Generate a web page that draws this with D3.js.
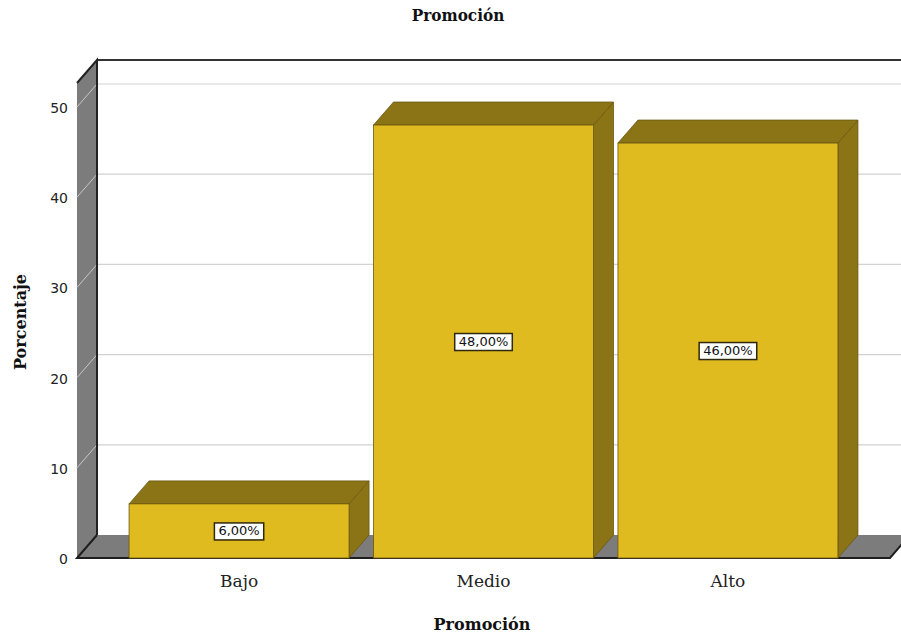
<!DOCTYPE html>
<html>
<head>
<meta charset="utf-8">
<script src="https://cdn.jsdelivr.net/npm/d3@7"></script>
<style>
  html, body { margin: 0; padding: 0; background: #ffffff; }
  svg { display: block; }
</style>
</head>
<body>
<svg id="chart" width="901" height="634"></svg>
<script>
// Data
const categories = ["Bajo", "Medio", "Alto"];
const percentages = [6, 48, 46];
const valueLabels = ["6,00%", "48,00%", "46,00%"];
const yTicks = [0, 10, 20, 30, 40, 50];

(function draw() {
  const W = 901;
  const svg = d3.select("#chart");

  // Front plane of the 3D box and depth offset
  const plotLeft = 77, plotRight = 890, plotBottom = 558, plotTop = 83;
  const dx = 20, dy = 23;
  const yMax = 52.66;

  const x = d3.scaleBand().domain(categories).range([plotLeft, plotRight])
    .paddingInner(0.1).paddingOuter(0.213);
  const y = d3.scaleLinear().domain([0, yMax]).range([plotBottom, plotTop]);

  const line = d3.line();
  const poly = pts => line(pts) + "Z";

  // Back wall
  svg.append("rect")
    .attr("x", plotLeft + dx).attr("y", plotTop - dy)
    .attr("width", W).attr("height", plotBottom - plotTop)
    .attr("fill", "#ffffff");

  // Gridlines on back wall
  svg.append("g").selectAll("line").data(yTicks.filter(d => d > 0)).join("line")
    .attr("x1", plotLeft + dx).attr("x2", W + 20)
    .attr("y1", d => y(d) - dy).attr("y2", d => y(d) - dy)
    .attr("stroke", "#d2d2d2").attr("stroke-width", 1.2);

  // Top edge of back wall
  svg.append("line")
    .attr("x1", plotLeft + dx).attr("x2", W + 20)
    .attr("y1", plotTop - dy).attr("y2", plotTop - dy)
    .attr("stroke", "#333333").attr("stroke-width", 2);

  // Left wall
  svg.append("path")
    .attr("d", poly([[plotLeft, plotTop], [plotLeft + dx, plotTop - dy], [plotLeft + dx, plotBottom - dy], [plotLeft, plotBottom]]))
    .attr("fill", "#7c7c7c");
  svg.append("g").selectAll("line").data(yTicks.filter(d => d > 0)).join("line")
    .attr("x1", plotLeft).attr("y1", d => y(d))
    .attr("x2", plotLeft + dx).attr("y2", d => y(d) - dy)
    .attr("stroke", "#c8c8c8").attr("stroke-width", 1);
  svg.append("path")
    .attr("d", line([[plotLeft, plotTop], [plotLeft + dx, plotTop - dy], [plotLeft + dx, plotBottom - dy]]))
    .attr("fill", "none").attr("stroke", "#222222").attr("stroke-width", 2);

  // Floor
  svg.append("path")
    .attr("d", poly([[plotLeft, plotBottom], [plotRight, plotBottom], [plotRight + dx, plotBottom - dy], [plotLeft + dx, plotBottom - dy]]))
    .attr("fill", "#7c7c7c");
  svg.append("path")
    .attr("d", line([[plotLeft + dx, plotBottom - dy], [plotLeft, plotBottom], [plotRight, plotBottom], [plotRight + dx, plotBottom - dy]]))
    .attr("fill", "none").attr("stroke", "#1e1e1e").attr("stroke-width", 2);

  // Bars
  const front = "#e0bb1f", shade = "#8b7416", edge = "#6a5710";
  const bars = svg.append("g").selectAll("g").data(categories).join("g");
  bars.each(function(c, i) {
    const g = d3.select(this);
    const x0 = x(c), x1 = x(c) + x.bandwidth();
    const yv = y(percentages[i]), y0 = y(0);
    // right side face
    g.append("path")
      .attr("d", poly([[x1, yv], [x1 + dx, yv - dy], [x1 + dx, y0 - dy], [x1, y0]]))
      .attr("fill", shade).attr("stroke", edge).attr("stroke-width", 0.8);
    // top face
    g.append("path")
      .attr("d", poly([[x0, yv], [x0 + dx, yv - dy], [x1 + dx, yv - dy], [x1, yv]]))
      .attr("fill", shade).attr("stroke", edge).attr("stroke-width", 0.8);
    // front face
    g.append("rect")
      .attr("x", x0).attr("y", yv).attr("width", x1 - x0).attr("height", y0 - yv)
      .attr("fill", front).attr("stroke", edge).attr("stroke-width", 0.8);
  });

  // Value labels in white boxes
  bars.each(function(c, i) {
    const g = d3.select(this);
    const cx = x(c) + x.bandwidth() / 2;
    const cy = (y(percentages[i]) + y(0)) / 2;
    const t = g.append("text")
      .attr("x", cx).attr("y", cy + 1)
      .attr("text-anchor", "middle").attr("dominant-baseline", "middle")
      .attr("font-family", "DejaVu Sans").attr("font-size", 13)
      .attr("fill", "#111111")
      .text(valueLabels[i]);
    const bb = t.node().getBBox();
    g.insert("rect", "text")
      .attr("x", cx - bb.width / 2 - 4).attr("y", cy - 8)
      .attr("width", bb.width + 8).attr("height", 17)
      .attr("fill", "#ffffff").attr("stroke", "#2e280c").attr("stroke-width", 1.5);
  });

  // Y axis labels
  const yAxis = d3.axisLeft(y).tickValues(yTicks).tickSize(0).tickPadding(9);
  const ya = svg.append("g").attr("transform", `translate(${plotLeft},1)`).call(yAxis);
  ya.select(".domain").remove();
  ya.selectAll("text").attr("font-family", "DejaVu Sans").attr("font-size", 14).attr("fill", "#222222");

  // X axis labels
  const xAxis = d3.axisBottom(x).tickSize(0).tickPadding(17);
  const xa = svg.append("g").attr("transform", `translate(0,${plotBottom})`).call(xAxis);
  xa.select(".domain").remove();
  xa.selectAll("text").attr("font-family", "DejaVu Serif").attr("font-size", 17).attr("fill", "#222222");

  // Titles
  svg.append("text")
    .attr("x", 458).attr("y", 21).attr("text-anchor", "middle")
    .attr("font-family", "DejaVu Serif Condensed, DejaVu Serif").attr("font-weight", "bold")
    .attr("font-size", 17).attr("fill", "#111111")
    .text("Promoción");
  svg.append("text")
    .attr("x", 482).attr("y", 630).attr("text-anchor", "middle")
    .attr("font-family", "DejaVu Serif").attr("font-weight", "bold")
    .attr("font-size", 16).attr("fill", "#111111")
    .text("Promoción");
  svg.append("text")
    .attr("transform", "translate(26,322) rotate(-90)").attr("text-anchor", "middle")
    .attr("font-family", "DejaVu Serif").attr("font-weight", "bold")
    .attr("font-size", 16).attr("fill", "#111111")
    .text("Porcentaje");
})();
</script>
</body>
</html>
